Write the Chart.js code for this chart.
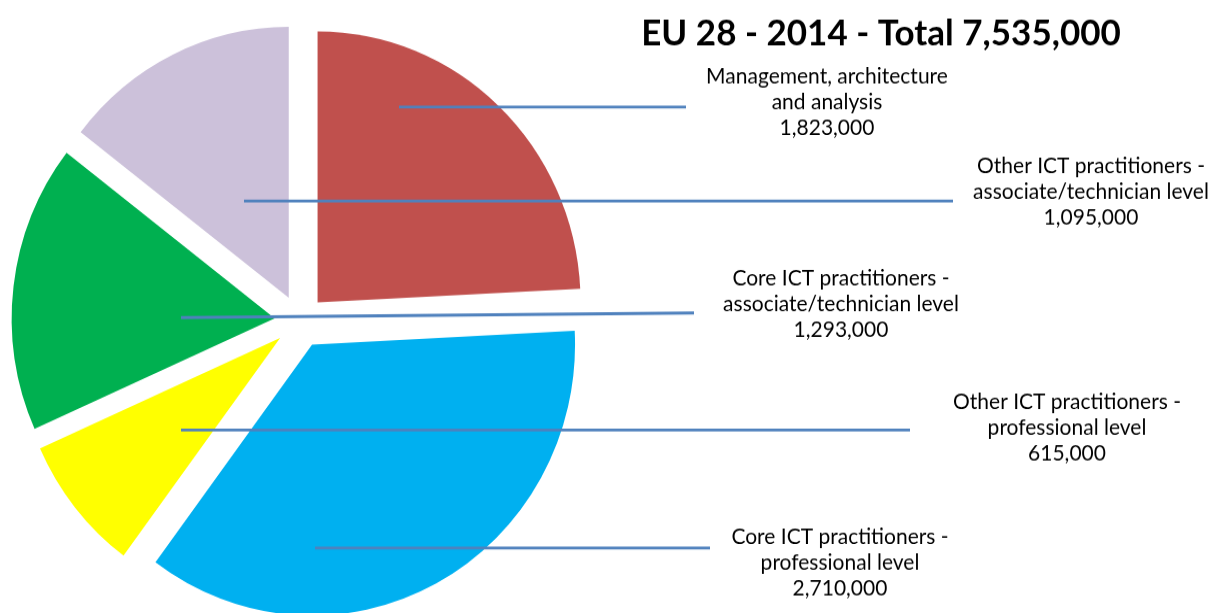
<!DOCTYPE html>
<html>
<head>
<meta charset="utf-8">
<script src="https://cdn.jsdelivr.net/npm/chart.js@4"></script>
<style>
  html, body { margin: 0; padding: 0; background: #fff; }
</style>
</head>
<body>
<canvas id="pie" width="1211" height="595" style="display:block;width:1211px;height:613px"></canvas>
<script>
const chartTitle = "EU 28 - 2014 - Total 7,535,000";
const categories = [
    ["Management, architecture", "and analysis"],
    ["Core ICT practitioners -", "professional level"],
    ["Other ICT practitioners -", "professional level"],
    ["Core ICT practitioners -", "associate/technician level"],
    ["Other ICT practitioners -", "associate/technician level"]
];
const employed = [1823000, 2710000, 615000, 1293000, 1095000];
const sliceColors = ["#C0504D", "#00B0F0", "#FFFF00", "#00B050", "#CCC1DA"];

// where each callout text sits and where its leader line runs (screen px)
const callouts = [
    { textX: 827, textY: 77, lineFrom: [399, 107], lineTo: [686, 107] },
    { textX: 840, textY: 537, lineFrom: [315, 548], lineTo: [710, 548] },
    { textX: 1067, textY: 402, lineFrom: [181, 430], lineTo: [910, 430] },
    { textX: 841, textY: 279, lineFrom: [181, 317.5], lineTo: [694, 313] },
    { textX: 1091, textY: 166, lineFrom: [244, 201], lineTo: [953, 201] }
];

const SCREEN_H = 613;
const EXPLODE = 25.5;

// draws each slice pulled out from the centre by the same distance
const explodePlugin = {
    id: "explode",
    beforeDatasetDraw(chart, args) {
        const ctx = chart.ctx;
        args.meta.data.forEach(function (arc) {
            const mid = (arc.startAngle + arc.endAngle) / 2;
            ctx.save();
            ctx.translate(Math.cos(mid) * EXPLODE, Math.sin(mid) * EXPLODE);
            arc.draw(ctx);
            ctx.restore();
        });
        return false;
    }
};

const calloutPlugin = {
    id: "callouts",
    afterDraw(chart) {
        const ctx = chart.ctx;
        ctx.save();
        // the canvas is stretched a little vertically by css; undo it for lines and text
        ctx.scale(1, chart.height / SCREEN_H);

        ctx.strokeStyle = "#4F81BD";
        ctx.lineWidth = 3;
        callouts.forEach(function (c) {
            ctx.beginPath();
            ctx.moveTo(c.lineFrom[0], c.lineFrom[1]);
            ctx.lineTo(c.lineTo[0], c.lineTo[1]);
            ctx.stroke();
        });

        ctx.fillStyle = "#000";
        ctx.textAlign = "center";
        ctx.textBaseline = "middle";
        ctx.font = "21px Lato";
        callouts.forEach(function (c, i) {
            const lines = categories[i].concat([employed[i].toLocaleString("en-US")]);
            lines.forEach(function (t, k) {
                ctx.fillText(t, c.textX, c.textY + k * 25.8);
            });
        });

        ctx.font = "bold 35px Lato";
        ctx.fillText(chartTitle, 881, 34);
        ctx.restore();
    }
};

new Chart(document.getElementById("pie"), {
    type: "pie",
    data: {
        labels: categories,
        datasets: [{
            data: employed,
            backgroundColor: sliceColors,
            borderWidth: 0,
            radius: 263
        }]
    },
    options: {
        responsive: false,
        devicePixelRatio: 1,
        animation: false,
        events: [],
        layout: { padding: { left: 0, right: 611, top: 29, bottom: 0 } },
        plugins: {
            legend: { display: false },
            title: { display: false },
            tooltip: { enabled: false }
        }
    },
    plugins: [explodePlugin, calloutPlugin]
});
</script>
</body>
</html>
